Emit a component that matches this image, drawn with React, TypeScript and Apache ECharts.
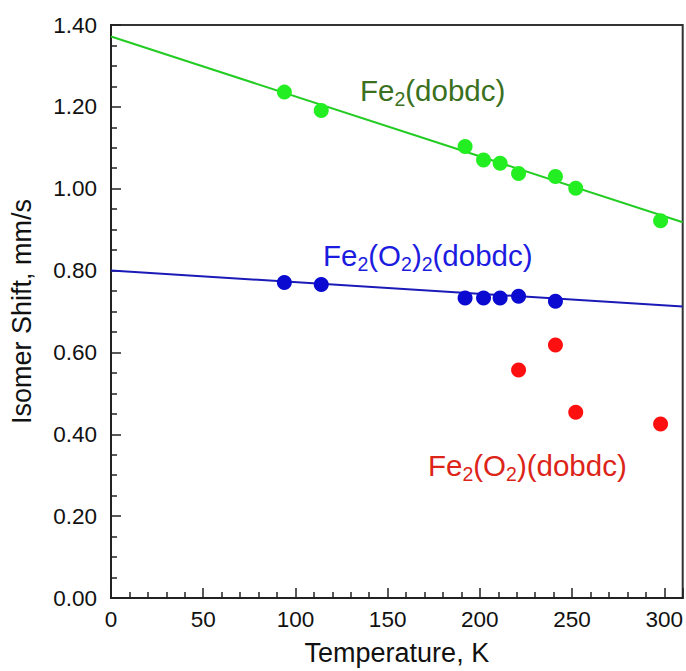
import { useEffect, useRef } from "react";
import * as echarts from "echarts";

// Temperature (K) and isomer shift (mm/s)
const fe2Temps = [94, 114, 192, 202, 211, 221, 241, 252, 298];
const fe2Shift = [1.236, 1.191, 1.103, 1.07, 1.062, 1.037, 1.03, 1.001, 0.922];
const fe2O2x2Temps = [94, 114, 192, 202, 211, 221, 241];
const fe2O2x2Shift = [0.771, 0.766, 0.733, 0.733, 0.733, 0.737, 0.725];
const fe2O2Temps = [221, 241, 252, 298];
const fe2O2Shift = [0.557, 0.618, 0.454, 0.425];
// Fit lines (end points)
const fitTemps = [0, 310];
const fe2Fit = [1.372, 0.918];
const fe2O2x2Fit = [0.8, 0.712];

const xTickLabels = [0, 50, 100, 150, 200, 250, 300];
const yTickLabels = [0, 0.2, 0.4, 0.6, 0.8, 1.0, 1.2, 1.4];

const FONT = "'Liberation Sans', Arial, Helvetica, sans-serif";

const zip = (a: number[], b: number[]) => a.map((v, i) => [v, b[i]]);

export default function App() {
  const ref = useRef<HTMLDivElement>(null);
  useEffect(() => {
    if (!ref.current) return;
    const chart = echarts.init(ref.current, null, { renderer: "svg" });
    const axisColor = "#222";
    const labelRich = (color: string) => ({
      n: { fontSize: 29.5, fontFamily: FONT, fill: color, color },
      s: { fontSize: 19.5, fontFamily: FONT, fill: color, color, padding: [17, 0, 0, 0] },
    });
    chart.setOption({
      animation: false,
      backgroundColor: "#fff",
      grid: {
        left: 110,
        right: 1,
        top: 25,
        bottom: 70,
        show: true,
        borderColor: "#333",
        borderWidth: 2,
        backgroundColor: "transparent",
      },
      xAxis: {
        type: "value",
        min: 0,
        max: 310,
        interval: 50,
        name: "Temperature, K",
        nameLocation: "middle",
        nameGap: 41,
        nameTextStyle: { fontSize: 27, fontFamily: FONT, color: "#111" },
        axisLine: { show: true, onZero: false, lineStyle: { color: axisColor, width: 2 } },
        axisTick: { show: true, inside: true, length: 10, lineStyle: { color: axisColor, width: 1.5 } },
        minorTick: { show: true, splitNumber: 5, length: 6, lineStyle: { color: axisColor, width: 1.5 } },
        splitLine: { show: false },
        axisLabel: {
          fontSize: 22.5,
          fontFamily: FONT,
          color: "#111",
          margin: 10,
          showMaxLabel: false,
          formatter: (v: number) => (xTickLabels.includes(v) ? String(v) : ""),
        },
      },
      yAxis: {
        type: "value",
        min: 0,
        max: 1.4,
        interval: 0.2,
        name: "Isomer Shift, mm/s",
        nameLocation: "middle",
        nameGap: 76,
        nameTextStyle: { fontSize: 27, fontFamily: FONT, color: "#111" },
        axisLine: { show: true, onZero: false, lineStyle: { color: axisColor, width: 2 } },
        axisTick: { show: true, inside: true, length: 10, lineStyle: { color: axisColor, width: 1.5 } },
        minorTick: { show: true, splitNumber: 4, length: 6, lineStyle: { color: axisColor, width: 1.5 } },
        splitLine: { show: false },
        axisLabel: {
          fontSize: 22.5,
          fontFamily: FONT,
          color: "#111",
          margin: 14,
          formatter: (v: number) =>
            yTickLabels.some((t) => Math.abs(t - v) < 1e-6) ? v.toFixed(2) : "",
        },
      },
      series: [
        {
          type: "line",
          data: zip(fitTemps, fe2Fit),
          showSymbol: false,
          lineStyle: { color: "#22cc22", width: 2 },
          z: 2,
        },
        {
          type: "line",
          data: zip(fitTemps, fe2O2x2Fit),
          showSymbol: false,
          lineStyle: { color: "#1a1ab8", width: 2 },
          z: 2,
        },
        {
          type: "scatter",
          data: zip(fe2Temps, fe2Shift),
          symbolSize: 15,
          itemStyle: { color: "#22ee22", opacity: 1 },
          z: 3,
        },
        {
          type: "scatter",
          data: zip(fe2O2x2Temps, fe2O2x2Shift),
          symbolSize: 15,
          itemStyle: { color: "#0a0ad0", opacity: 1 },
          z: 3,
        },
        {
          type: "scatter",
          data: zip(fe2O2Temps, fe2O2Shift),
          symbolSize: 15,
          itemStyle: { color: "#ff1010", opacity: 1 },
          z: 3,
        },
      ],
      graphic: [
        {
          type: "text",
          x: 360,
          y: 90,
          z: 10,
          style: {
            text: "{n|Fe}{s|2}{n|(dobdc)}",
            rich: labelRich("#3a7020"),
            verticalAlign: "middle",
            align: "left",
          },
        },
        {
          type: "text",
          x: 323,
          y: 255,
          z: 10,
          style: {
            text: "{n|Fe}{s|2}{n|(O}{s|2}{n|)}{s|2}{n|(dobdc)}",
            rich: labelRich("#1c1ce0"),
            verticalAlign: "middle",
            align: "left",
          },
        },
        {
          type: "text",
          x: 428,
          y: 465,
          z: 10,
          style: {
            text: "{n|Fe}{s|2}{n|(O}{s|2}{n|)(dobdc)}",
            rich: labelRich("#dc2418"),
            verticalAlign: "middle",
            align: "left",
          },
        },
      ],
    });
    return () => chart.dispose();
  }, []);
  return (
    <div
      ref={ref}
      style={{ position: "fixed", left: 0, top: 0, width: 686, height: 671, background: "#fff" }}
    />
  );
}
